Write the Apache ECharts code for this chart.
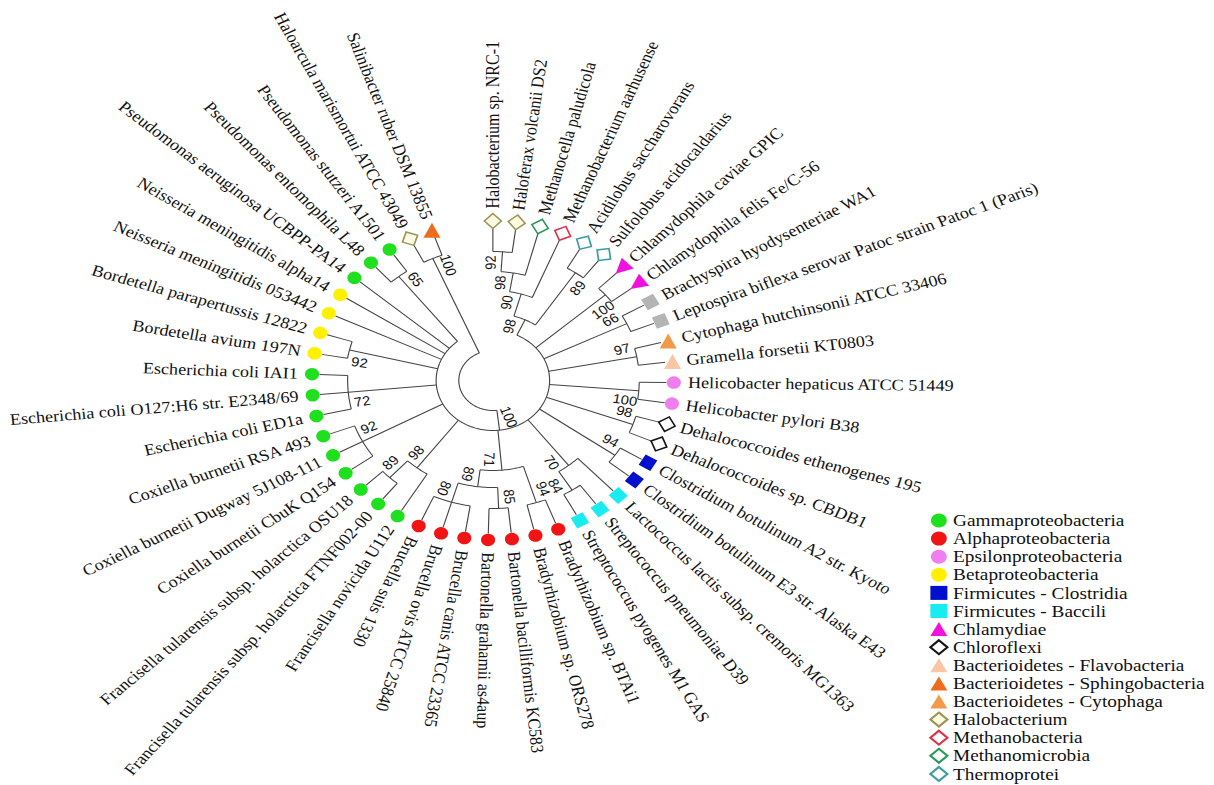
<!doctype html>
<html lang="en">
<head>
<meta charset="UTF-8">
<title>Phylogenetic tree</title>
<style>
    html, body { margin: 0; padding: 0; background: #fff; overflow: hidden; }
    /* the source figure is stretched sideways, so the whole chart is too */
    #main { width: 1070px; height: 785px; transform: scaleX(1.1346); transform-origin: 0 0; }
</style>
</head>
<body>
<div id="main"></div>
<script src="https://cdn.jsdelivr.net/npm/echarts/dist/echarts.min.js"></script>
<script>
    // leaves, clockwise from the top
    var leafNames = [
        'Halobacterium sp. NRC-1', 'Haloferax volcanii DS2', 'Methanocella paludicola',
        'Methanobacterium aarhusense', 'Acidilobus saccharovorans', 'Sulfolobus acidocaldarius',
        'Chlamydophila caviae GPIC', 'Chlamydophila felis Fe/C-56', 'Brachyspira hyodysenteriae WA1',
        'Leptospira biflexa serovar Patoc strain Patoc 1 (Paris)', 'Cytophaga hutchinsonii ATCC 33406',
        'Gramella forsetii KT0803', 'Helicobacter hepaticus ATCC 51449', 'Helicobacter pylori B38',
        'Dehalococcoides ethenogenes 195', 'Dehalococcoides sp. CBDB1', 'Clostridium botulinum A2 str. Kyoto',
        'Clostridium botulinum E3 str. Alaska E43', 'Lactococcus lactis subsp. cremoris MG1363',
        'Streptococcus pneumoniae D39', 'Streptococcus pyogenes M1 GAS', 'Bradyrhizobium sp. BTAi1',
        'Bradyrhizobium sp. ORS278', 'Bartonella bacilliformis KC583', 'Bartonella grahamii as4aup',
        'Brucella canis ATCC 23365', 'Brucella ovis ATCC 25840', 'Brucella suis 1330',
        'Francisella novicida U112', 'Francisella tularensis subsp. holarctica FTNF002-00',
        'Francisella tularensis subsp. holarctica OSU18', 'Coxiella burnetii CbuK Q154',
        'Coxiella burnetii Dugway 5J108-111', 'Coxiella burnetii RSA 493', 'Escherichia coli ED1a',
        'Escherichia coli O127:H6 str. E2348/69', 'Escherichia coli IAI1', 'Bordetella avium 197N',
        'Bordetella parapertussis 12822', 'Neisseria meningitidis 053442', 'Neisseria meningitidis alpha14',
        'Pseudomonas aeruginosa UCBPP-PA14', 'Pseudomonas entomophila L48', 'Pseudomonas stutzeri A1501',
        'Haloarcula marismortui ATCC 43049', 'Salinibacter ruber DSM 13855'
    ];
    var leafGroup = [
        'Halobacterium', 'Halobacterium', 'Methanomicrobia', 'Methanobacteria', 'Thermoprotei', 'Thermoprotei',
        'Chlamydiae', 'Chlamydiae', 'Spirochaetes', 'Spirochaetes',
        'Bacterioidetes - Cytophaga', 'Bacterioidetes - Flavobacteria',
        'Epsilonproteobacteria', 'Epsilonproteobacteria', 'Chloroflexi', 'Chloroflexi',
        'Firmicutes - Clostridia', 'Firmicutes - Clostridia',
        'Firmicutes - Baccili', 'Firmicutes - Baccili', 'Firmicutes - Baccili',
        'Alphaproteobacteria', 'Alphaproteobacteria', 'Alphaproteobacteria', 'Alphaproteobacteria',
        'Alphaproteobacteria', 'Alphaproteobacteria', 'Alphaproteobacteria',
        'Gammaproteobacteria', 'Gammaproteobacteria', 'Gammaproteobacteria', 'Gammaproteobacteria',
        'Gammaproteobacteria', 'Gammaproteobacteria', 'Gammaproteobacteria', 'Gammaproteobacteria',
        'Gammaproteobacteria',
        'Betaproteobacteria', 'Betaproteobacteria', 'Betaproteobacteria', 'Betaproteobacteria',
        'Gammaproteobacteria', 'Gammaproteobacteria', 'Gammaproteobacteria',
        'Halobacterium', 'Bacterioidetes - Sphingobacteria'
    ];
    var legendNames = [
        'Gammaproteobacteria', 'Alphaproteobacteria', 'Epsilonproteobacteria', 'Betaproteobacteria',
        'Firmicutes - Clostridia', 'Firmicutes - Baccili', 'Chlamydiae', 'Chloroflexi',
        'Bacterioidetes - Flavobacteria', 'Bacterioidetes - Sphingobacteria', 'Bacterioidetes - Cytophaga',
        'Halobacterium', 'Methanobacteria', 'Methanomicrobia', 'Thermoprotei'
    ];

    // internal nodes: children (leaf index or node id), depth from the centre, bootstrap value
    var nodeIds = ['hal', 'hm', 'hmm', 'thr', 'arc', 'chl', 'spi', 'bac', 'hel', 'dha', 'clo', 'str', 'bcl',
        'bra', 'bar', 'bru', 'bb', 'alp', 'fr2', 'fra', 'cox', 'eco', 'bor', 'pse', 'big', 'sal', 'root'];
    var nodeChildren = [
        [0, 1], ['hal', 2], ['hm', 3], [4, 5], ['hmm', 'thr'], [6, 7], [8, 9], [10, 11], [12, 13], [14, 15],
        [16, 17], [19, 20], [18, 'str'], [21, 22], [23, 24], [25, 26, 27], ['bar', 'bru'], ['bra', 'bb'],
        [29, 30], [28, 'fr2'], [31, 32, 33], [34, 35, 36], [37, 38], [42, 43],
        ['arc', 'chl', 'spi', 'bac', 'hel', 'dha', 'clo', 'bcl', 'alp', 'fra', 'cox', 'eco', 'bor', 39, 40, 41, 'pse'],
        [44, 45], ['big', 'sal']
    ];
    var nodeDepth = [129, 109, 90, 130, 67, 131, 131, 129, 129, 131, 131, 130, 108,
        128, 128, 127, 107, 90, 133, 110, 130, 128, 130, 133, 50, 133, 30];
    var nodeSupport = [92, 98, 90, 89, 98, 100, 66, 97, 100, 98, 94, 84, 70,
        94, 85, 80, 89, 71, 89, 98, 92, 72, 92, 65, 100, 100, null];

    // layout
    var ANGLE_MAX = 47.6;   // slots round the full circle, leaves sit on whole slots
    var LEAF_END = 153, LEAF_R = 159.5, LABEL_R = 172;
    var labelSide = {hal: -1, hm: -1, hmm: -1, thr: 1, arc: -1, chl: 1, spi: -1, bac: -1, hel: 1, dha: -1,
        clo: -1, str: 1, bcl: 1, bra: -1, bar: -1, bru: 1, bb: 1, alp: 1, fr2: 1, fra: 1, cox: 1,
        eco: -1, bor: -1, pse: 1, big: -1, sal: 1};
    var groupStyle = {
        'Gammaproteobacteria': {symbol: 'circle', size: 12.5, color: '#1fe01f'},
        'Alphaproteobacteria': {symbol: 'circle', size: 12.5, color: '#f01414'},
        'Epsilonproteobacteria': {symbol: 'circle', size: 12.5, color: '#f07ef0'},
        'Betaproteobacteria': {symbol: 'circle', size: 12.5, color: '#fff000'},
        'Firmicutes - Clostridia': {symbol: 'rect', size: 12, color: '#0010cc', rotate: 'radial'},
        'Firmicutes - Baccili': {symbol: 'rect', size: 12, color: '#18ecf0', rotate: 'radial'},
        'Chlamydiae': {symbol: 'triangle', size: 15, color: '#f012dc', rotate: 'inward'},
        'Chloroflexi': {symbol: 'diamond', size: 15, color: '#ffffff', border: '#151515', rotate: 'radial'},
        'Bacterioidetes - Flavobacteria': {symbol: 'triangle', size: 15, color: '#f8c6a4'},
        'Bacterioidetes - Sphingobacteria': {symbol: 'triangle', size: 15, color: '#ee6c1e'},
        'Bacterioidetes - Cytophaga': {symbol: 'triangle', size: 15, color: '#f29a4a'},
        'Halobacterium': {symbol: 'diamond', size: 15, color: '#fdfbe4', border: '#9c9458', rotate: 'radial'},
        'Methanobacteria': {symbol: 'diamond', size: 15, color: '#ffffff', border: '#e0304c', rotate: 'radial'},
        'Methanomicrobia': {symbol: 'diamond', size: 15, color: '#ffffff', border: '#2a9a58', rotate: 'radial'},
        'Thermoprotei': {symbol: 'diamond', size: 15, color: '#ffffff', border: '#3a9ea0', rotate: 'radial'},
        'Spirochaetes': {symbol: 'rect', size: 12, color: '#b4b4b4', rotate: 'radial'}
    };

    function toDeg(slot) { return slot * 360 / ANGLE_MAX; }

    // node positions: a node sits midway between its first and last child
    var nodeSlot = {}, nodeR = {};
    nodeIds.forEach(function (id, i) {
        var kids = nodeChildren[i];
        nodeSlot[id] = (slotOf(kids[0]) + slotOf(kids[kids.length - 1])) / 2;
        nodeR[id] = nodeDepth[i];
    });
    function slotOf(c) { return typeof c === 'number' ? c : nodeSlot[c]; }
    function depthOf(c) { return typeof c === 'number' ? LEAF_END : nodeR[c]; }

    // segments [r0, r1, slot0, slot1]: arcs for nodes, radial lines to children
    var segments = [];
    var supportItems = [];
    nodeIds.forEach(function (id, i) {
        var kids = nodeChildren[i];
        segments.push([nodeDepth[i], nodeDepth[i], slotOf(kids[0]), slotOf(kids[kids.length - 1])]);
        kids.forEach(function (c) {
            segments.push([nodeDepth[i], depthOf(c), slotOf(c), slotOf(c)]);
        });
        if (nodeSupport[i] != null) {
            var r = nodeDepth[i] - 11;
            var shift = labelSide[id] * (10 / r) * 180 / Math.PI / (360 / ANGLE_MAX);
            supportItems.push([r, nodeSlot[id] + shift, i]);
        }
    });
    var leafLabelItems = leafNames.map(function (n, i) { return [LABEL_R, i, i]; });

    function radialText(api, r, slot, text, family, size, centred) {
        var p = api.coord([r, slot]);
        var deg = toDeg(slot);
        var rot = 90 - deg, align = centred ? 'center' : 'left';
        if (deg > 208 && deg < 352) {
            rot += 180;
            if (!centred) align = 'right';
        }
        return {
            type: 'text', x: p[0], y: p[1], rotation: rot * Math.PI / 180,
            style: {text: text, fontFamily: family, fontSize: size, fill: '#111', align: align, verticalAlign: 'middle'}
        };
    }

    var series = [{
        type: 'custom', name: 'branches', coordinateSystem: 'polar', silent: true, z: 1,
        data: segments,
        renderItem: function (params, api) {
            var r0 = api.value(0), r1 = api.value(1), a0 = api.value(2), a1 = api.value(3);
            var n = a0 === a1 ? 1 : Math.max(2, Math.ceil(Math.abs(a1 - a0) * 8));
            var pts = [];
            for (var k = 0; k <= n; k++) {
                pts.push(api.coord([r0 + (r1 - r0) * k / n, a0 + (a1 - a0) * k / n]));
            }
            return {type: 'polyline', shape: {points: pts}, style: {stroke: '#444', lineWidth: 1, fill: null}};
        }
    }, {
        type: 'custom', name: 'support', coordinateSystem: 'polar', silent: true, z: 3,
        data: supportItems,
        renderItem: function (params, api) {
            return radialText(api, api.value(0), api.value(1), String(nodeSupport[api.value(2)]),
                'Liberation Sans', 13, true);
        }
    }, {
        type: 'custom', name: 'names', coordinateSystem: 'polar', silent: true, z: 3,
        data: leafLabelItems,
        renderItem: function (params, api) {
            return radialText(api, api.value(0), api.value(1), leafNames[api.value(2)],
                'Liberation Serif', 16, false);
        }
    }];

    Object.keys(groupStyle).forEach(function (g) {
        var st = groupStyle[g];
        var pts = [];
        leafGroup.forEach(function (lg, i) {
            if (lg !== g) return;
            var deg = toDeg(i), rot = 0;
            if (st.rotate === 'radial') rot = -deg;
            if (st.rotate === 'inward') rot = -(deg + 180);
            pts.push({value: [LEAF_R, i], symbolRotate: rot});
        });
        series.push({
            type: 'scatter', name: g, coordinateSystem: 'polar', silent: true, z: 4,
            symbol: st.symbol, symbolSize: st.size,
            itemStyle: {color: st.color, borderColor: st.border || st.color, borderWidth: st.border ? 1.5 : 0, opacity: 1},
            data: pts
        });
    });

    var myChart = echarts.init(document.getElementById('main'), null, {renderer: 'svg'});
    myChart.setOption({
        animation: false,
        backgroundColor: '#fff',
        polar: {center: [434.4, 380.5], radius: 160},
        angleAxis: {type: 'value', min: 0, max: ANGLE_MAX, startAngle: 90, clockwise: true, show: false},
        radiusAxis: {type: 'value', min: 0, max: 160, show: false},
        legend: {
            data: legendNames, orient: 'vertical', left: 819, top: 512, height: 280, padding: 0,
            itemWidth: 15, itemHeight: 14, itemGap: 1.1, selectedMode: false,
            textStyle: {fontFamily: 'Liberation Serif', fontSize: 17, color: '#111'}
        },
        series: series
    });
</script>
</body>
</html>
